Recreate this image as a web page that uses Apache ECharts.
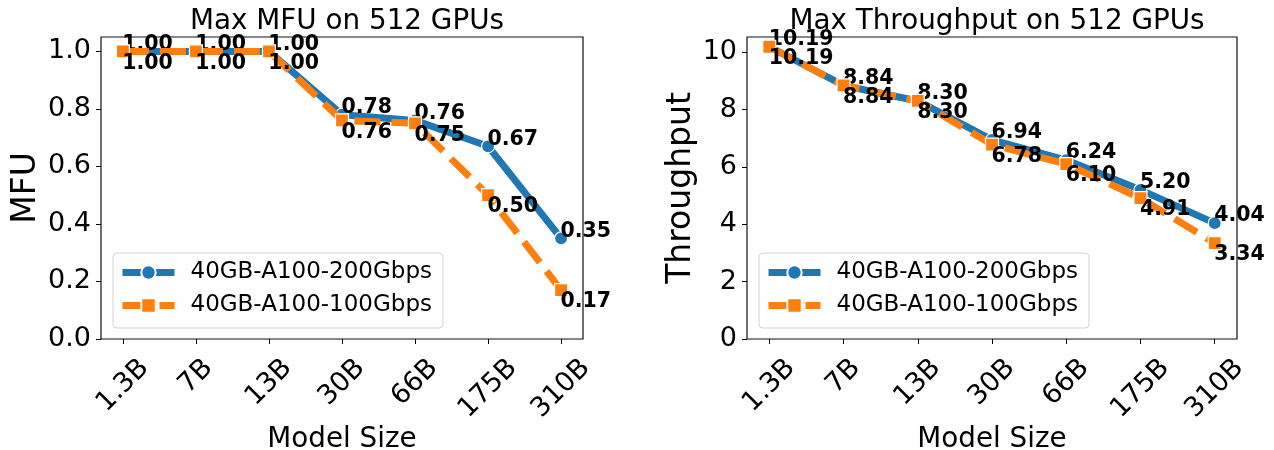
<!DOCTYPE html>
<html>
<head>
<meta charset="utf-8">
<script src="https://cdn.jsdelivr.net/npm/echarts@6/dist/echarts.min.js"></script>
<style>
  html, body { margin: 0; padding: 0; background: #fff; }
  #chart { width: 1274px; height: 450px; }
</style>
</head>
<body>
<div id="chart"></div>
<script>
// ---- data ----
const modelSizes = ['1.3B', '7B', '13B', '30B', '66B', '175B', '310B'];
const seriesNames = ['40GB-A100-200Gbps', '40GB-A100-100Gbps'];
const mfu200 = [1.00, 1.00, 1.00, 0.78, 0.76, 0.67, 0.35];
const mfu100 = [1.00, 1.00, 1.00, 0.76, 0.75, 0.50, 0.17];
const thr200 = [10.19, 8.84, 8.30, 6.94, 6.24, 5.20, 4.04];
const thr100 = [10.19, 8.84, 8.30, 6.78, 6.10, 4.91, 3.34];
const mfuTicks = [0, 0.2, 0.4, 0.6, 0.8, 1.0];
const thrTicks = [0, 2, 4, 6, 8, 10];
const titles = ['Max MFU on 512 GPUs', 'Max Throughput on 512 GPUs'];
const yNames = ['MFU', 'Throughput'];
const xName = 'Model Size';

// ---- style ----
const FONT = '"DejaVu Sans", sans-serif';
const BLUE = '#1f77b4';
const ORANGE = '#ff7f0e';
const TICK_FS = 27;
const xIdx = modelSizes.map((_, i) => i);

// Rotated tick labels are centred under their tick; longer labels sit lower.
const measure = (() => {
  const ctx = document.createElement('canvas').getContext('2d');
  ctx.font = TICK_FS + 'px ' + FONT;
  return t => ctx.measureText(t).width;
})();
const xRich = {};
modelSizes.forEach((t, i) => {
  const dy = Math.max(0, (measure(t) + 31) * 0.3536 - 20);
  const p = dy * 1.4142;
  xRich['x' + i] = { fontSize: TICK_FS, fontFamily: FONT, color: '#000', padding: [p, p, 0, 0] };
});

const grids = [
  { left: 101, top: 37, width: 482, height: 302 },
  { left: 747, top: 37, width: 490, height: 302 }
];

function makeX(g) {
  return {
    type: 'value', gridIndex: g, min: -0.3, max: 6.3,
    axisLine: { show: false, onZero: false }, splitLine: { show: false },
    axisTick: { show: true, inside: false, length: 5, customValues: xIdx, lineStyle: { color: '#000', width: 1 } },
    axisLabel: {
      customValues: xIdx, rotate: 45, align: 'center', verticalAlign: 'middle', margin: 34,
      formatter: v => '{x' + Math.round(v) + '|' + modelSizes[Math.round(v)] + '}',
      rich: xRich
    },
    name: xName, nameLocation: 'middle', nameGap: 87, nameMoveOverlap: false,
    nameTextStyle: { fontSize: 27.8, fontFamily: FONT, color: '#000', verticalAlign: 'top' }
  };
}

function makeY(g, max, ticks, digits, name, gap) {
  return {
    type: 'value', gridIndex: g, min: 0, max: max,
    axisLine: { show: false, onZero: false }, splitLine: { show: false },
    axisTick: { show: true, inside: false, length: 5, customValues: ticks, lineStyle: { color: '#000', width: 1 } },
    axisLabel: {
      customValues: ticks, margin: 10, fontSize: TICK_FS, fontFamily: FONT, color: '#000',
      formatter: v => v.toFixed(digits)
    },
    name: name, nameLocation: 'middle', nameGap: gap, nameMoveOverlap: false,
    nameTextStyle: { fontSize: 33, fontFamily: FONT, color: '#000' }
  };
}

function makeLine(g, name, values, color, symbol, dashed, labelBelow) {
  return {
    type: 'line', name: name, xAxisIndex: g, yAxisIndex: g,
    data: values.map((v, i) => [i, v]),
    symbol: symbol, symbolSize: 13,
    lineStyle: { color: color, width: 7, type: dashed ? [26, 11] : 'solid' },
    itemStyle: { color: color, borderColor: '#fff', borderWidth: 1.2 },
    label: {
      show: true, position: [6.5, labelBelow ? 8.5 : 10.5],
      align: 'left', verticalAlign: labelBelow ? 'top' : 'bottom',
      fontSize: 20.5, fontWeight: 'bold', fontFamily: FONT, color: '#000',
      formatter: p => p.value[1].toFixed(2)
    },
    emphasis: { disabled: true },
    z: labelBelow ? 3 : 2,
    animation: false
  };
}

function makeLegend(left) {
  return {
    data: seriesNames, orient: 'vertical', left: left, top: 253,
    itemWidth: 52, itemHeight: 18, itemGap: 10,
    padding: [8, 11, 11, 6],
    borderColor: '#d3d3d3', borderWidth: 1, borderRadius: 4,
    backgroundColor: 'rgba(255,255,255,0.8)',
    selectedMode: false,
    lineStyle: { width: 7 },
    textStyle: { fontSize: 23, fontFamily: FONT, color: '#000', padding: [0, 0, 0, 11] }
  };
}

const chart = echarts.init(document.getElementById('chart'), null, { renderer: 'canvas' });
chart.setOption({
  animation: false,
  backgroundColor: '#fff',
  title: titles.map((t, g) => ({
    text: t, left: grids[g].left + grids[g].width / 2, top: 3, textAlign: 'center',
    textStyle: { fontSize: 27.8, fontWeight: 'normal', fontFamily: FONT, color: '#000' }
  })),
  grid: grids.map(g => Object.assign({
    show: true, borderColor: '#111', borderWidth: 1.2,
    containLabel: false, outerBoundsMode: 'none'
  }, g)),
  xAxis: [makeX(0), makeX(1)],
  yAxis: [
    makeY(0, 1.05, mfuTicks, 1, yNames[0], 58),
    makeY(1, 10.53, thrTicks, 0, yNames[1], 49)
  ],
  legend: [makeLegend(113), makeLegend(759)],
  series: [
    makeLine(0, seriesNames[0], mfu200, BLUE, 'circle', false, false),
    makeLine(0, seriesNames[1], mfu100, ORANGE, 'rect', true, true),
    makeLine(1, seriesNames[0], thr200, BLUE, 'circle', false, false),
    makeLine(1, seriesNames[1], thr100, ORANGE, 'rect', true, true)
  ]
});
</script>
</body>
</html>
